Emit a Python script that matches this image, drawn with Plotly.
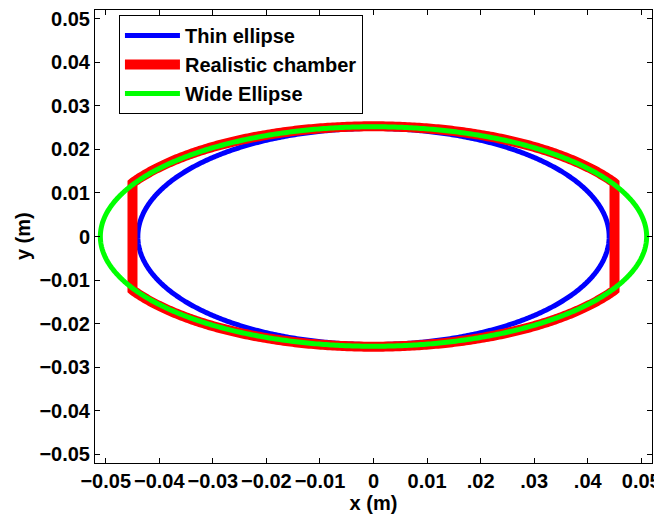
import numpy as np
import plotly.graph_objects as go

# Shape parameters (metres)
series_names = ["Thin ellipse", "Realistic chamber", "Wide Ellipse"]
series_colors = ["#0000ff", "#ff0000", "#00ff00"]
semi_axis_x = [0.0440, 0.0515, 0.0510]
semi_axis_y = [0.0248, 0.0253, 0.0252]
flat_cut_x = [None, 0.0450, None]   # realistic chamber is cut flat at |x| = 0.045
line_widths = [5, 10, 5]

x_tick_vals = [-0.05, -0.04, -0.03, -0.02, -0.01, 0, 0.01, 0.02, 0.03, 0.04, 0.05]
x_tick_text = ["\u22120.05", "\u22120.04", "\u22120.03", "\u22120.02", "\u22120.01", "0",
               "0.01", ".02", ".03", ".04", "0.05"]
y_tick_vals = [0.05, 0.04, 0.03, 0.02, 0.01, 0, -0.01, -0.02, -0.03, -0.04, -0.05]
y_tick_text = ["0.05", "0.04", "0.03", "0.02", "0.01", "0",
               "\u22120.01", "\u22120.02", "\u22120.03", "\u22120.04", "\u22120.05"]


def ellipse(a, b, cut=None, n=721):
    t = np.linspace(0, 2 * np.pi, n)
    x = a * np.cos(t)
    y = b * np.sin(t)
    if cut is not None:
        x = np.clip(x, -cut, cut)
    return x, y


fig = go.Figure()
for name, col, a, b, cut, w in zip(series_names, series_colors, semi_axis_x,
                                   semi_axis_y, flat_cut_x, line_widths):
    x, y = ellipse(a, b, cut)
    fig.add_trace(go.Scatter(x=x, y=y, mode="lines", name=name,
                             line=dict(color=col, width=w, simplify=False)))

FONT = "Liberation Sans, Arial, Helvetica, sans-serif"
FS = 20
TF = dict(family=FONT, size=FS, color="black", weight="bold")
axis_common = dict(
    showline=True, linecolor="black", linewidth=1, mirror="ticks",
    ticks="inside", ticklen=5, tickcolor="black", tickwidth=1,
    showgrid=False, zeroline=False, automargin=False, tickfont=TF,
    ticklabeloverflow="allow",
)

# the page body adds an 8px offset; the figure is sized to fill the rest
fig.update_layout(
    width=654, height=513,
    margin=dict(l=87, r=10, t=2, b=58),
    plot_bgcolor="white", paper_bgcolor="white",
    font=TF,
    xaxis=dict(range=[-0.052, 0.052], tickvals=x_tick_vals, ticktext=x_tick_text,
               title=dict(text="x (m)", standoff=2, font=TF), **axis_common),
    yaxis=dict(range=[-0.052, 0.052], tickvals=y_tick_vals, ticktext=y_tick_text,
               **axis_common),
    annotations=[dict(text="y (m)", textangle=-90, xref="paper", yref="paper",
                      x=-0.130, y=0.5, xanchor="center", yanchor="middle",
                      showarrow=False, font=TF)],
    legend=dict(x=0.043, y=0.989, xanchor="left", yanchor="top",
                bgcolor="white", bordercolor="black", borderwidth=1,
                font=TF, tracegroupgap=0, itemwidth=55),
    showlegend=True,
)

fig.write_html("out.html")
